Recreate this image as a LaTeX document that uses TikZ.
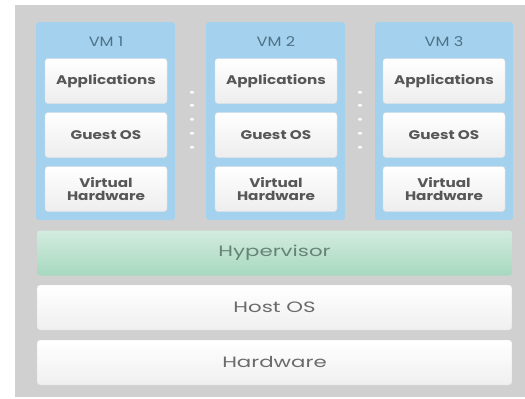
\documentclass[tikz,border=0pt]{standalone}
\usepackage{fontspec}
\setmainfont{Poppins}
\newfontfamily\layerfont{Poppins}[FakeStretch=1.42]
\newfontfamily\guestfont{Poppins}[FakeStretch=1.22]
\newfontfamily\vmfont{Poppins}[FakeStretch=1.2]
\usepackage{xcolor}
\definecolor{framegray}{HTML}{D0D0D0}
\definecolor{vmblue}{HTML}{A4D2EE}
\definecolor{vmtext}{HTML}{4E7188}
\definecolor{boxtext}{HTML}{575757}
\definecolor{layertext}{HTML}{6A6A6A}
\definecolor{hyptop}{HTML}{D3ECDF}
\definecolor{hypbot}{HTML}{A6D8BF}
\definecolor{hyptext}{HTML}{668376}
\tikzset{
  vmpanel/.style={fill=vmblue,rounded corners=3},
  guestbox/.style={rectangle,rounded corners=3,top color=white,bottom color=gray!14,
    draw=gray!25,minimum width=122,minimum height=45,inner sep=0,align=center,
    font=\guestfont\fontsize{12.5}{13.5}\selectfont\bfseries,text=boxtext},
  layerbox/.style={rectangle,rounded corners=3,top color=white,bottom color=gray!12,
    draw=gray!30,minimum width=475,minimum height=45,inner sep=0,
    font=\layerfont\fontsize{15}{17}\selectfont,text=layertext},
  vmlabel/.style={font=\vmfont\fontsize{13.5}{15}\selectfont,text=vmtext,inner sep=0},
  dot/.style={fill=white!92!vmblue,rounded corners=0.8}
}
\begin{document}
\begin{tikzpicture}[x=1pt,y=-1pt]
\useasboundingbox (0,0) rectangle (525,399);
\fill[white] (0,0) rectangle (525,399);
\fill[framegray] (15,5) rectangle (525,397);
% virtual machines
\fill[vmpanel] (36,22) rectangle (175,220);
\fill[vmpanel] (206,22) rectangle (345,220);
\fill[vmpanel] (375,22) rectangle (513,220);
\node[vmlabel] (vm1) at (106,42) {VM 1};
\node[vmlabel] (vm2) at (276,42) {VM 2};
\node[vmlabel] (vm3) at (444,42) {VM 3};
\node[guestbox] (app1) at (106,81) {Applications};
\node[guestbox] (os1) at (106,135) {Guest OS};
\node[guestbox] (hw1) at (106,189) {Virtual\\Hardware};
\node[guestbox] (app2) at (276,81) {Applications};
\node[guestbox] (os2) at (276,135) {Guest OS};
\node[guestbox] (hw2) at (276,189) {Virtual\\Hardware};
\node[guestbox] (app3) at (444,81) {Applications};
\node[guestbox] (os3) at (444,135) {Guest OS};
\node[guestbox] (hw3) at (444,189) {Virtual\\Hardware};
% dots between the machines
\fill[dot] (190,91) rectangle (194,93.5);
\fill[dot] (190,104) rectangle (194,106.5);
\fill[dot] (190,118) rectangle (194,120.5);
\fill[dot] (190,132) rectangle (194,134.5);
\fill[dot] (190,146) rectangle (194,148.5);
\fill[dot] (358,91) rectangle (362,93.5);
\fill[dot] (358,104) rectangle (362,106.5);
\fill[dot] (358,118) rectangle (362,120.5);
\fill[dot] (358,132) rectangle (362,134.5);
\fill[dot] (358,146) rectangle (362,148.5);
% layers
\node[layerbox,top color=hyptop,bottom color=hypbot,draw=none,text=hyptext] (hyp) at (274.5,253) {Hypervisor};
\node[layerbox] (host) at (274.5,307.5) {Host OS};
\node[layerbox] (hw) at (274.5,362.5) {Hardware};
\end{tikzpicture}
\end{document}
